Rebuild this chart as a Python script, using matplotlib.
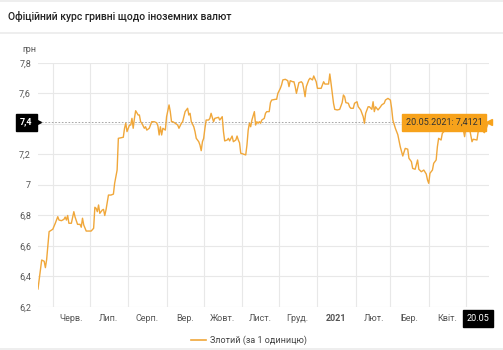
import numpy as np
import matplotlib
matplotlib.use("Agg")
import matplotlib.pyplot as plt
import matplotlib.dates as mdates

plt.rcParams['font.family'] = ['Roboto', 'DejaVu Sans']

# days since 20.05.2020 and the zloty rate (UAH per 1 PLN)
start = np.datetime64('2020-05-20')
days = [0, 3, 5, 6, 7, 9, 11, 12, 14, 16, 17, 19, 21, 22, 23, 24, 25, 27, 29, 30,
        32, 34, 35, 36, 37, 39, 43, 45, 46, 47, 48, 49, 50, 52, 53, 54, 55, 57, 59, 61,
        62, 64, 65, 69, 70, 71, 72, 74, 75, 76, 77, 78, 79, 81, 82, 83, 84, 86, 87, 88,
        90, 91, 92, 94, 96, 97, 98, 99, 100, 101, 103, 104, 106, 107, 108, 109, 111, 113, 114, 116,
        117, 119, 121, 122, 123, 124, 126, 127, 128, 130, 131, 132, 133, 134, 135, 136, 138, 139, 140, 142,
        143, 146, 147, 149, 150, 151, 153, 154, 155, 157, 158, 160, 161, 162, 163, 164, 166, 168, 169, 170,
        171, 172, 173, 175, 176, 177, 178, 179, 180, 181, 183, 184, 185, 187, 188, 189, 192, 193, 194, 196,
        197, 198, 200, 202, 203, 204, 206, 207, 208, 209, 211, 213, 214, 215, 216, 217, 219, 220, 222, 223,
        225, 226, 229, 231, 232, 235, 236, 237, 239, 240, 242, 244, 246, 247, 248, 249, 251, 252, 253, 255,
        256, 258, 259, 261, 263, 264, 265, 267, 268, 270, 271, 272, 273, 275, 277, 278, 280, 281, 283, 285,
        286, 287, 289, 291, 293, 295, 297, 299, 300, 302, 303, 305, 307, 308, 310, 312, 314, 315, 316, 317,
        319, 320, 322, 323, 324, 326, 327, 330, 332, 335, 337, 340, 342, 344, 345, 346, 348, 349, 351, 352,
        355, 356, 359, 361, 362, 364, 365]
rate = [6.318, 6.508, 6.50, 6.458, 6.51, 6.694, 6.705, 6.71, 6.749, 6.792, 6.77, 6.766, 6.775, 6.79, 6.77, 6.80, 6.749, 6.749, 6.825, 6.79,
        6.742, 6.742, 6.723, 6.782, 6.738, 6.698, 6.698, 6.716, 6.854, 6.847, 6.825, 6.869, 6.814, 6.836, 6.84, 6.80, 6.836, 6.934, 6.934, 6.94,
        7.011, 7.098, 7.306, 7.313, 7.372, 7.405, 7.35, 7.393, 7.393, 7.437, 7.372, 7.437, 7.487, 7.459, 7.459, 7.415, 7.405, 7.372, 7.382, 7.36,
        7.372, 7.393, 7.415, 7.415, 7.408, 7.387, 7.328, 7.382, 7.328, 7.372, 7.36, 7.448, 7.525, 7.481, 7.415, 7.415, 7.405, 7.393, 7.372, 7.405,
        7.415, 7.481, 7.503, 7.459, 7.47, 7.415, 7.382, 7.35, 7.306, 7.284, 7.262, 7.225, 7.284, 7.306, 7.372, 7.426, 7.426, 7.437, 7.47, 7.415,
        7.437, 7.444, 7.426, 7.448, 7.35, 7.289, 7.295, 7.306, 7.289, 7.321, 7.284, 7.295, 7.321, 7.295, 7.277, 7.208, 7.203, 7.197, 7.262, 7.36,
        7.405, 7.382, 7.426, 7.481, 7.393, 7.415, 7.405, 7.415, 7.405, 7.426, 7.437, 7.47, 7.481, 7.481, 7.54, 7.557, 7.562, 7.562, 7.601, 7.634,
        7.656, 7.689, 7.693, 7.684, 7.645, 7.684, 7.677, 7.677, 7.645, 7.601, 7.671, 7.677, 7.667, 7.628, 7.579, 7.645, 7.689, 7.70, 7.689, 7.715,
        7.677, 7.634, 7.634, 7.677, 7.662, 7.662, 7.728, 7.667, 7.536, 7.496, 7.492, 7.496, 7.54, 7.59, 7.579, 7.54, 7.536, 7.513, 7.503, 7.503,
        7.536, 7.546, 7.513, 7.492, 7.448, 7.405, 7.47, 7.513, 7.513, 7.496, 7.546, 7.481, 7.513, 7.492, 7.513, 7.525, 7.536, 7.557, 7.568, 7.557,
        7.503, 7.426, 7.372, 7.33, 7.25, 7.19, 7.24, 7.235, 7.175, 7.153, 7.109, 7.103, 7.164, 7.103, 7.087, 7.098, 7.072, 7.033, 7.011, 7.077,
        7.098, 7.142, 7.164, 7.251, 7.306, 7.295, 7.339, 7.365, 7.40, 7.41, 7.39, 7.42, 7.40, 7.36, 7.317, 7.37, 7.36, 7.37, 7.284, 7.30,
        7.295, 7.35, 7.36, 7.343, 7.36, 7.405, 7.4121]

month_labels = ['Черв.', 'Лип.', 'Серп.', 'Вер.', 'Жовт.', 'Лист.', 'Груд.', '2021',
                'Лют.', 'Бер.', 'Квіт.', 'Трав.']
y_ticks = [6.2, 6.4, 6.6, 6.8, 7.0, 7.2, 7.4, 7.6, 7.8]
y_labels = ['6,2', '6,4', '6,6', '6,8', '7', '7,2', '', '7,6', '7,8']

title = 'Офіційний курс гривні щодо іноземних валют'
series_name = 'Злотий (за 1 одиницю)'
last_date_label = '20.05'
tooltip_text = '20.05.2021: 7,4121'
cross_value = 7.4121

line_color = '#F0A73A'
grid_color = '#e8e8e8'
text_color = '#555555'

dates = start + np.array(days).astype('timedelta64[D]')
end = start + np.timedelta64(365, 'D')

fig = plt.figure(figsize=(5.03, 3.5), dpi=100)
ax = fig.add_axes([0.0755, 0.1229, 0.8973, 0.6971])

ax.plot(dates, rate, color=line_color, lw=1.0, zorder=3)

ax.set_xlim(start, end)
ax.set_ylim(6.2, 7.8)

# month boundaries are the grid, labels sit mid-month
ax.xaxis.set_minor_locator(mdates.MonthLocator())
mid = np.array(['2020-06-16', '2020-07-16', '2020-08-16', '2020-09-16', '2020-10-16',
                '2020-11-16', '2020-12-16', '2021-01-16', '2021-02-16', '2021-03-16',
                '2021-04-16', '2021-05-16'], dtype='datetime64[D]')
ax.set_xticks(mid)
ax.set_xticklabels(month_labels)
for lbl in ax.get_xticklabels():
    if lbl.get_text() == '2021':
        lbl.set_fontweight('bold')
        lbl.set_color('#222222')
ax.set_yticks(y_ticks)
ax.set_yticklabels(y_labels)

ax.grid(which='minor', axis='x', color=grid_color, lw=0.8)
ax.grid(which='major', axis='y', color=grid_color, lw=0.8)
ax.tick_params(axis='both', which='both', length=0, labelsize=6.5, colors=text_color)
ax.tick_params(axis='x', pad=5)
ax.tick_params(axis='y', pad=5)
for s in ax.spines.values():
    s.set_visible(False)

# crosshair
ax.axhline(cross_value, color='#999999', lw=0.6, ls=(0, (2, 2)), zorder=2)
ax.axvline(end, color='#999999', lw=0.6, ls=(0, (1, 2)), zorder=2)

# black value label on the y axis
ax.text(-0.012, cross_value, '7,4', transform=ax.get_yaxis_transform(),
        ha='right', va='center', fontsize=6.5, color='white', fontweight='bold',
        bbox=dict(boxstyle='square,pad=0.45', fc='black', ec='black'), clip_on=False)
ax.plot([0.0], [cross_value], marker='>', ms=4, color='black',
        transform=ax.get_yaxis_transform(), clip_on=False, zorder=5)

# black date label on the x axis
ax.text(end, 6.2 - 0.075, last_date_label, ha='right', va='center', fontsize=6.5,
        color='white', bbox=dict(boxstyle='square,pad=0.4', fc='black', ec='black'),
        clip_on=False, zorder=6)

# tooltip
ax.annotate(tooltip_text, xy=(end, cross_value), xytext=(-5, 0),
            textcoords='offset points', ha='right', va='center', fontsize=6.5,
            color='#333333',
            bbox=dict(boxstyle='square,pad=0.45', fc='#F7A21B', ec='#F7A21B'),
            zorder=7)
ax.plot([end], [cross_value], marker='<', ms=5, color='#F7A21B',
        clip_on=False, zorder=7)

# title bar and separators
fig.text(0.016, 1 - 16 / 350, title, fontsize=7.5, fontweight='medium',
         color='#222222', va='center', ha='left')
fig.add_artist(plt.Rectangle((0, 1 - 34 / 350), 1, 2.5 / 350, transform=fig.transFigure,
                             color='#eeeeee', lw=0))
fig.add_artist(plt.Rectangle((0, 0), 1, 2 / 350, transform=fig.transFigure,
                             color='#eeeeee', lw=0))
fig.add_artist(plt.Rectangle((0, 1 - 1.5 / 350), 1, 1.5 / 350, transform=fig.transFigure,
                             color='#eeeeee', lw=0))
fig.text(22 / 503, 1 - 49 / 350, 'грн', fontsize=6.5, color=text_color,
         ha='left', va='center')

leg = fig.legend([plt.Line2D([], [], color=line_color, lw=1.2)], [series_name],
                 loc='center', bbox_to_anchor=(0.495, 1 - 340 / 350), frameon=False,
                 fontsize=6.5, handlelength=1.6, handletextpad=0.4)
for t in leg.get_texts():
    t.set_color('#444444')

fig.savefig('out.png', dpi=100)
